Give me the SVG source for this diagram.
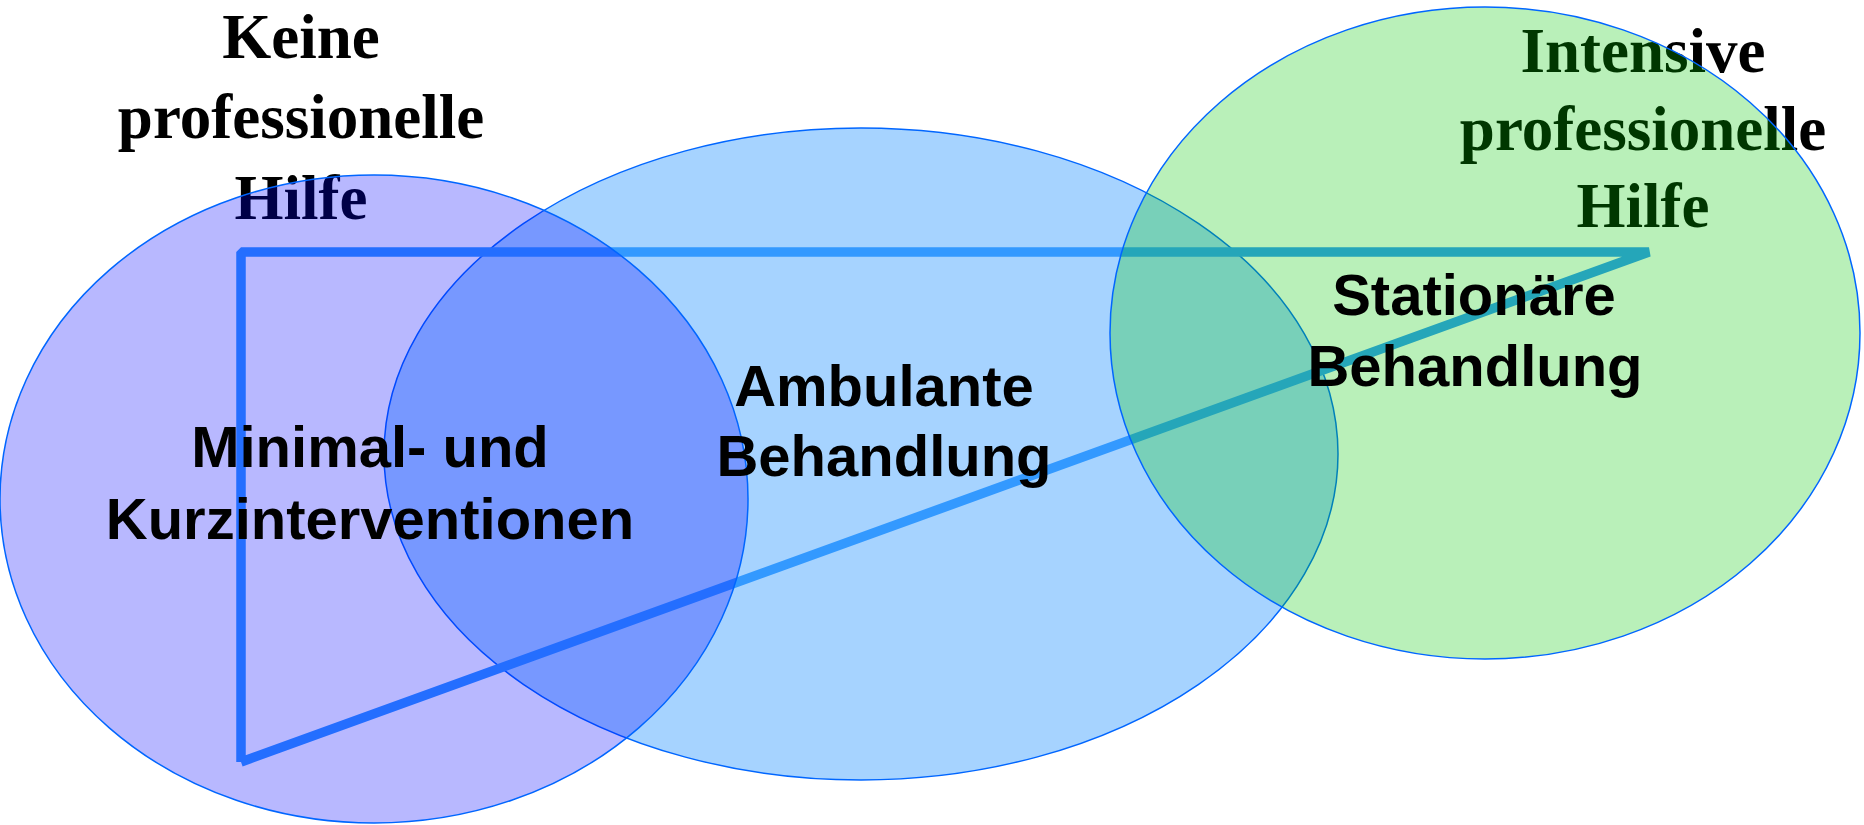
<svg xmlns="http://www.w3.org/2000/svg" width="1864" height="825" viewBox="0 0 1864 825">
<style>
.ttl{font-family:"Liberation Serif","Times New Roman",serif;font-weight:bold;font-size:63px;fill:#000;text-anchor:middle}
.lbl{font-family:"Liberation Sans",Arial,sans-serif;font-weight:bold;font-size:58px;fill:#000;text-anchor:middle}
.ell{stroke:#0066FF;stroke-width:1.5}
</style>
<rect width="1864" height="825" fill="#fff"/>
<g id="title-left">
<text class="ttl" x="301" y="58">Keine</text>
<text class="ttl" x="301" y="138">professionelle</text>
<text class="ttl" x="301" y="219">Hilfe</text>
</g>
<g id="title-right">
<text class="ttl" x="1643" y="72">Intensive</text>
<text class="ttl" x="1643" y="150">professionelle</text>
<text class="ttl" x="1643" y="227">Hilfe</text>
</g>
<g id="ambulant">
<ellipse class="ell" cx="861" cy="454" rx="477" ry="326" fill="#0080FF" fill-opacity="0.35"/>
</g>
<g id="connectors">
<polyline points="241,762 241,252 1649,252 241,762" fill="none" stroke="#3399FF" stroke-width="9.5" stroke-linejoin="bevel"/>
</g>
<g id="minimal">
<ellipse class="ell" cx="374" cy="499" rx="374" ry="324" fill="#0000FF" fill-opacity="0.28"/>
</g>
<g id="stationaer">
<ellipse class="ell" cx="1485" cy="333" rx="375" ry="326" fill="#00C800" fill-opacity="0.275"/>
</g>
<g id="labels">
<text class="lbl" x="370" y="467">Minimal- und</text>
<text class="lbl" x="370" y="539">Kurzinterventionen</text>
<text class="lbl" x="884" y="406">Ambulante</text>
<text class="lbl" x="884" y="476">Behandlung</text>
<text class="lbl" x="1474" y="315">Stationäre</text>
<text class="lbl" x="1475" y="386">Behandlung</text>
</g>
</svg>
